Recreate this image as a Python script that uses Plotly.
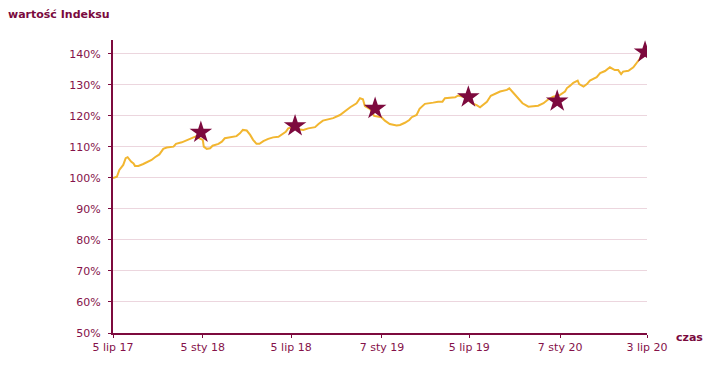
import pandas as pd
import plotly.graph_objects as go

START = "2017-07-05"

# index line: days since start, value in %
line_days = [0, 8, 13, 21, 26, 30, 37, 42, 45, 52, 62, 72, 79, 86, 95, 103, 110, 124, 129, 141,
             154, 163, 171, 177, 184, 186, 192, 199, 204, 216, 223, 229, 240, 253, 260, 266, 274,
             281, 287, 294, 300, 308, 318, 328, 339, 348, 354, 359, 369, 380, 390, 400, 414, 421,
             430, 451, 465, 486, 499, 506, 512, 516, 527, 535, 550, 557, 567, 581, 588, 598, 607,
             612, 622, 628, 639, 656, 666, 675, 680, 701, 707, 718, 728, 735, 745, 752, 757, 766,
             774, 786, 793, 807, 812, 820, 830, 839, 851, 861, 871, 882, 892, 902, 916, 926, 930,
             936, 943, 952, 955, 964, 971, 977, 991, 998, 1008, 1018, 1028, 1035, 1041, 1045, 1056,
             1066, 1073, 1080, 1085]
line_values = [100.0, 100.4, 102.6, 104.2, 106.4, 106.7, 105.3, 104.7, 103.9, 103.9, 104.5, 105.3,
               105.8, 106.7, 107.6, 109.4, 109.8, 110.1, 111.0, 111.5, 112.3, 113.1, 113.5, 112.8,
               112.3, 110.1, 109.4, 109.6, 110.4, 111.0, 111.7, 112.8, 113.1, 113.5, 114.4, 115.5,
               115.3, 113.9, 112.3, 111.0, 111.0, 111.9, 112.6, 113.1, 113.3, 114.1, 114.9, 116.0,
               116.4, 115.7, 115.5, 116.0, 116.4, 117.4, 118.5, 119.3, 120.3, 122.8, 124.1, 125.7,
               125.4, 123.2, 122.2, 120.0, 119.6, 118.5, 117.4, 116.9, 117.1, 117.8, 118.7, 119.6,
               120.3, 122.3, 123.9, 124.3, 124.6, 124.6, 125.7, 126.0, 126.6, 126.2, 125.2, 124.1,
               123.5, 122.8, 123.5, 124.6, 126.5, 127.3, 127.9, 128.4, 128.9, 127.5, 125.7, 124.1,
               123.0, 123.2, 123.3, 124.1, 125.4, 126.2, 126.8, 127.9, 129.0, 129.7, 130.7, 131.4,
               130.3, 129.5, 130.3, 131.4, 132.5, 133.8, 134.5, 135.7, 134.8, 134.8, 133.5, 134.3,
               134.6, 135.7, 137.0, 138.6, 140.2]

# star markers
star_days = [180, 373, 537, 728, 910, 1090]
star_values = [114.7, 116.8, 122.4, 126.1, 124.8, 140.6]

tick_dates = ["2017-07-05", "2018-01-05", "2018-07-05", "2019-01-07", "2019-07-05", "2020-01-07", "2020-07-03"]
tick_labels = ["5 lip 17", "5 sty 18", "5 lip 18", "7 sty 19", "5 lip 19", "7 sty 20", "3 lip 20"]
y_ticks = [50, 60, 70, 80, 90, 100, 110, 120, 130, 140]

start = pd.Timestamp(START)
line_x = [start + pd.Timedelta(days=d) for d in line_days]
star_x = [start + pd.Timedelta(days=d) for d in star_days]

MAROON = "#7d0a3e"
TEXT = "#85124a"
FONT = "DejaVu Sans"

fig = go.Figure()
fig.add_trace(go.Scatter(x=line_x, y=line_values, mode="lines",
                         line=dict(color="#f2b630", width=2), hoverinfo="skip"))
fig.add_trace(go.Scatter(x=star_x, y=star_values, mode="markers",
                         marker=dict(symbol="star", size=17, color=MAROON, line=dict(width=0))))

# page body has an 8px margin, so the figure is sized to fit inside it
fig.update_layout(
    width=703, height=360,
    margin=dict(l=105, r=64, t=32, b=35),
    paper_bgcolor="white", plot_bgcolor="white",
    showlegend=False,
    font=dict(family=FONT, size=11, color=TEXT),
    title=dict(text="<b>wartość Indeksu</b>", xref="container", yref="container",
               x=0, xanchor="left", y=1 - 6 / 360, yanchor="middle", pad=dict(t=0, l=0),
               font=dict(family=FONT, size=11, color="#7a0a3e")),
)
fig.update_xaxes(
    range=[pd.Timestamp("2017-07-05"), pd.Timestamp("2020-07-03")],
    tickmode="array", tickvals=tick_dates, ticktext=tick_labels,
    showgrid=False, showline=True, linecolor=MAROON, linewidth=2,
    ticks="outside", ticklen=3, tickcolor=MAROON, tickwidth=1,
    tickfont=dict(family=FONT, size=11, color=TEXT), zeroline=False,
)
fig.update_yaxes(
    range=[50, 144.5], tickmode="array", tickvals=y_ticks,
    ticktext=[f"{v}%" for v in y_ticks],
    showgrid=True, gridcolor="#ecd6de", gridwidth=1,
    showline=True, linecolor=MAROON, linewidth=2,
    ticks="outside", ticklen=3, tickcolor=MAROON, tickwidth=1,
    tickfont=dict(family=FONT, size=11, color=TEXT), zeroline=False,
    ticklabelstandoff=5,
)
fig.add_annotation(text="<b>czas</b>", xref="paper", yref="paper", x=1, y=0,
                   xanchor="left", yanchor="middle", xshift=27, yshift=-4,
                   showarrow=False, font=dict(family=FONT, size=11, color="#7a0a3e"))

fig.write_html("out.html")
